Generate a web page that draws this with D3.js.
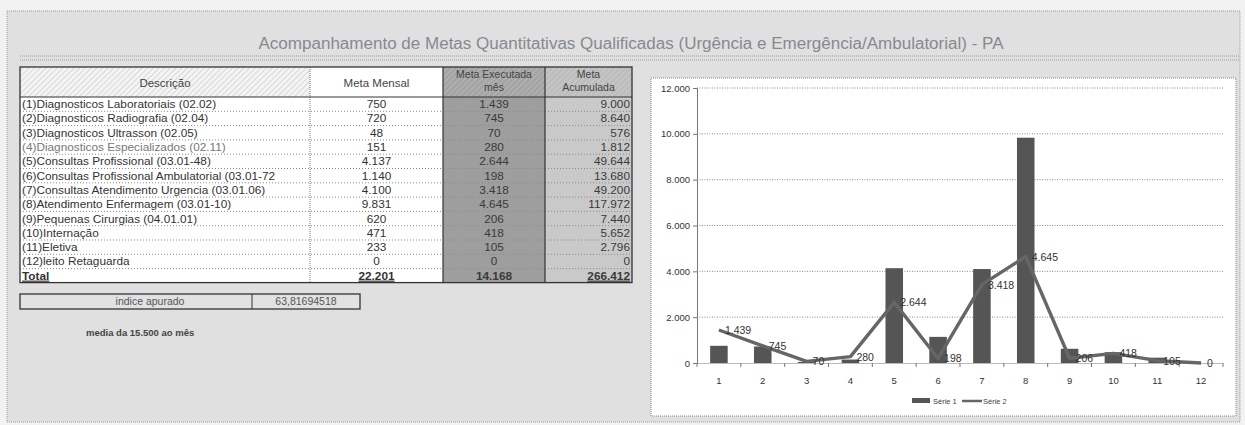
<!DOCTYPE html>
<html>
<head>
<meta charset="utf-8">
<script src="https://cdn.jsdelivr.net/npm/d3@7"></script>
<style>
  body { margin: 0; background: #f2f2f2; }
  svg text { font-family: "Liberation Sans", "DejaVu Sans", sans-serif; }
</style>
</head>
<body>
<div id="chart"></div>
<script>
const title = "Acompanhamento de Metas Quantitativas Qualificadas (Urgência e Emergência/Ambulatorial) - PA";
const headers = ["Descrição", "Meta Mensal", "Meta Executada mês", "Meta Acumulada"];
const descricao = [
  "(1)Diagnosticos Laboratoriais  (02.02)",
  "(2)Diagnosticos Radiografia (02.04)",
  "(3)Diagnosticos Ultrasson (02.05)",
  "(4)Diagnosticos Especializados (02.11)",
  "(5)Consultas Profissional (03.01-48)",
  "(6)Consultas Profissional Ambulatorial (03.01-72",
  "(7)Consultas Atendimento Urgencia (03.01.06)",
  "(8)Atendimento Enfermagem (03.01-10)",
  "(9)Pequenas Cirurgias (04.01.01)",
  "(10)Internação",
  "(11)Eletiva",
  "(12)leito Retaguarda"
];
const metaMensal = [750, 720, 48, 151, 4137, 1140, 4100, 9831, 620, 471, 233, 0];
const metaExecutada = [1439, 745, 70, 280, 2644, 198, 3418, 4645, 206, 418, 105, 0];
const metaAcumulada = [9000, 8640, 576, 1812, 49644, 13680, 49200, 117972, 7440, 5652, 2796, 0];
const categorias = [1, 2, 3, 4, 5, 6, 7, 8, 9, 10, 11, 12];
const yTicks = [0, 2000, 4000, 6000, 8000, 10000, 12000];
const indiceLabel = "indice apurado";
const indiceValor = "63,81694518";
const nota = "media da 15.500 ao mês";
const legenda = ["Série 1", "Série 2"];

const br = d3.formatLocale({decimal: ",", thousands: ".", grouping: [3], currency: ["R$", ""]});
const fmt = br.format(",d");

const W = 1245, H = 425;
const svg = d3.select("#chart").append("svg")
  .attr("width", W).attr("height", H);

const defs = svg.append("defs");
function hatch(id, bg, fg) {
  const p = defs.append("pattern").attr("id", id)
    .attr("width", 4).attr("height", 4)
    .attr("patternUnits", "userSpaceOnUse")
    .attr("patternTransform", "rotate(45)");
  p.append("rect").attr("width", 4).attr("height", 4).attr("fill", bg);
  p.append("line").attr("x1", 0).attr("y1", 0).attr("x2", 0).attr("y2", 4)
    .attr("stroke", fg).attr("stroke-width", 1.2);
}
hatch("hWhite", "#f4f4f4", "#c4c4c4");
hatch("hDark", "#a4a4a4", "#c2c2c2");
hatch("hMid", "#bdbdbd", "#d4d4d4");

// page panel
svg.append("rect").attr("x", 7).attr("y", 11).attr("width", 1233).attr("height", 411)
  .attr("fill", "#e0e0e0").attr("stroke", "#9a9a9a").attr("stroke-dasharray", "1,1");

svg.append("text").attr("x", 631).attr("y", 49)
  .attr("text-anchor", "middle").attr("font-size", 16).attr("fill", "#858a90")
  .attr("textLength", 745).attr("lengthAdjust", "spacingAndGlyphs")
  .text(title);
[56, 60].forEach(y => svg.append("line").attr("x1", 20).attr("x2", 1240)
  .attr("y1", y).attr("y2", y).attr("stroke", "#9a9a9a").attr("stroke-dasharray", "1,1"));

// ---- table
const colX = [20, 310, 443, 545, 632];
const headTop = 67, headBot = 97, rowH = 14.3;
const nRows = descricao.length;
const totalTop = headBot + nRows * rowH;
const tableBot = totalTop + 14;
const fs = 11.8;
const t = svg.append("g");

// column fills
const colFill = ["#ffffff", "#ffffff", "#9e9e9e", "#c9c9c9"];
const headFill = ["url(#hWhite)", "#ffffff", "url(#hDark)", "url(#hMid)"];
colFill.forEach((f, i) => {
  t.append("rect").attr("x", colX[i]).attr("y", headBot)
    .attr("width", colX[i + 1] - colX[i]).attr("height", tableBot - headBot).attr("fill", f);
  t.append("rect").attr("x", colX[i]).attr("y", headTop)
    .attr("width", colX[i + 1] - colX[i]).attr("height", headBot - headTop).attr("fill", headFill[i]);
});

// row separators
d3.range(1, nRows + 1).forEach(i => {
  t.append("line").attr("x1", colX[0]).attr("x2", colX[4])
    .attr("y1", headBot + i * rowH).attr("y2", headBot + i * rowH)
    .attr("stroke", "#8a8a8a").attr("stroke-dasharray", "1,2");
});
// column separators
t.append("line").attr("x1", colX[1]).attr("x2", colX[1]).attr("y1", headTop).attr("y2", tableBot)
  .attr("stroke", "#777").attr("stroke-dasharray", "1,1");
[2, 3].forEach(i => t.append("line").attr("x1", colX[i]).attr("x2", colX[i])
  .attr("y1", headTop).attr("y2", tableBot).attr("stroke", "#333").attr("stroke-width", 1.2));
t.append("line").attr("x1", colX[0]).attr("x2", colX[4]).attr("y1", headBot).attr("y2", headBot)
  .attr("stroke", "#333");
t.append("rect").attr("x", colX[0]).attr("y", headTop)
  .attr("width", colX[4] - colX[0]).attr("height", tableBot - headTop)
  .attr("fill", "none").attr("stroke", "#333").attr("stroke-width", 1.3);

// headers
t.append("text").attr("x", (colX[0] + colX[1]) / 2).attr("y", 87).attr("text-anchor", "middle")
  .attr("font-size", 11.5).attr("fill", "#444").text(headers[0]);
t.append("text").attr("x", (colX[1] + colX[2]) / 2).attr("y", 87).attr("text-anchor", "middle")
  .attr("font-size", 11.5).attr("fill", "#444").text(headers[1]);
t.append("text").attr("x", (colX[2] + colX[3]) / 2).attr("y", 78).attr("text-anchor", "middle")
  .attr("font-size", 10.5).attr("fill", "#444")
  .selectAll("tspan").data(["Meta Executada", "mês"]).join("tspan")
  .attr("x", (colX[2] + colX[3]) / 2).attr("dy", (d, i) => i ? 13 : 0).text(d => d);
t.append("text").attr("x", (colX[3] + colX[4]) / 2).attr("y", 78).attr("text-anchor", "middle")
  .attr("font-size", 10.5).attr("fill", "#444")
  .selectAll("tspan").data(["Meta", "Acumulada"]).join("tspan")
  .attr("x", (colX[3] + colX[4]) / 2).attr("dy", (d, i) => i ? 13 : 0).text(d => d);

// rows
const rowY = i => headBot + i * rowH + rowH - 3.2;
t.selectAll(".desc").data(descricao).join("text")
  .attr("x", colX[0] + 2).attr("y", (d, i) => rowY(i))
  .attr("font-size", fs).attr("fill", (d, i) => i === 3 ? "#777" : "#333").text(d => d);
t.selectAll(".mensal").data(metaMensal).join("text")
  .attr("x", (colX[1] + colX[2]) / 2).attr("y", (d, i) => rowY(i)).attr("text-anchor", "middle")
  .attr("font-size", fs).attr("fill", "#333").text(d => fmt(d));
t.selectAll(".exec").data(metaExecutada).join("text")
  .attr("x", (colX[2] + colX[3]) / 2).attr("y", (d, i) => rowY(i)).attr("text-anchor", "middle")
  .attr("font-size", fs).attr("fill", "#3a3a3a").text(d => fmt(d));
t.selectAll(".acum").data(metaAcumulada).join("text")
  .attr("x", colX[4] - 2).attr("y", (d, i) => rowY(i)).attr("text-anchor", "end")
  .attr("font-size", fs).attr("fill", "#3a3a3a").text(d => fmt(d));

// total row
const ty = tableBot - 3;
t.append("text").attr("x", colX[0] + 2).attr("y", ty).attr("font-size", fs).attr("font-weight", "bold")
  .attr("fill", "#333").style("text-decoration", "underline").text("Total");
t.append("text").attr("x", (colX[1] + colX[2]) / 2).attr("y", ty).attr("text-anchor", "middle")
  .attr("font-size", fs).attr("font-weight", "bold").attr("fill", "#333")
  .style("text-decoration", "underline").text(fmt(d3.sum(metaMensal)));
t.append("text").attr("x", (colX[2] + colX[3]) / 2).attr("y", ty).attr("text-anchor", "middle")
  .attr("font-size", fs).attr("font-weight", "bold").attr("fill", "#3a3a3a").text(fmt(d3.sum(metaExecutada)));
t.append("text").attr("x", colX[4] - 2).attr("y", ty).attr("text-anchor", "end")
  .attr("font-size", fs).attr("font-weight", "bold").attr("fill", "#3a3a3a")
  .style("text-decoration", "underline").text(fmt(d3.sum(metaAcumulada)));

// indice box
t.append("rect").attr("x", 20).attr("y", 294).attr("width", 340).attr("height", 15)
  .attr("fill", "#e2e2e2").attr("stroke", "#333").attr("stroke-width", 1.3);
t.append("line").attr("x1", 252).attr("x2", 252).attr("y1", 294).attr("y2", 309).attr("stroke", "#333");
t.append("text").attr("x", 150).attr("y", 305).attr("text-anchor", "middle")
  .attr("font-size", 10.5).attr("fill", "#555").text(indiceLabel);
t.append("text").attr("x", 306).attr("y", 305).attr("text-anchor", "middle")
  .attr("font-size", 10.5).attr("fill", "#555").text(indiceValor);
t.append("text").attr("x", 86).attr("y", 336).attr("font-size", 9.5).attr("font-weight", "bold")
  .attr("fill", "#444").text(nota);

// ---- chart
svg.append("rect").attr("x", 651).attr("y", 78).attr("width", 585).attr("height", 338)
  .attr("fill", "#ffffff").attr("stroke", "#8a8a8a").attr("stroke-dasharray", "1,1");

const x = d3.scaleBand().domain(categorias).range([697, 1223]).paddingInner(0.6).paddingOuter(0.3);
const y = d3.scaleLinear().domain([0, 12000]).range([363, 88]);
const cx = d => x(d) + x.bandwidth() / 2;

const c = svg.append("g");
c.append("g").selectAll("line").data(yTicks.filter(v => v > 0)).join("line")
  .attr("x1", 697).attr("x2", 1223).attr("y1", d => y(d)).attr("y2", d => y(d))
  .attr("stroke", "#8a8a8a").attr("stroke-dasharray", "1,1.5");

const yAxis = c.append("g").attr("transform", "translate(697,0)")
  .call(d3.axisLeft(y).tickValues(yTicks).tickSize(4).tickFormat(fmt));
yAxis.select(".domain").attr("stroke", "#777");
yAxis.selectAll(".tick line").attr("stroke", "#777");
yAxis.selectAll("text").attr("font-size", 9.5).attr("fill", "#333").attr("x", -7);

const xAxis = c.append("g").attr("transform", "translate(0,363)")
  .call(d3.axisBottom(x).tickSize(0).tickPadding(14));
xAxis.select(".domain").attr("stroke", "#777").attr("stroke-dasharray", "1,1");
xAxis.selectAll("text").attr("font-size", 9.5).attr("fill", "#333");
c.append("g").selectAll("line").data(categorias.concat([13])).join("line")
  .attr("x1", (d, i) => 697 + i * x.step()).attr("x2", (d, i) => 697 + i * x.step())
  .attr("y1", 363).attr("y2", 367).attr("stroke", "#777");

c.append("g").selectAll("rect").data(metaMensal).join("rect")
  .attr("x", (d, i) => x(categorias[i])).attr("width", x.bandwidth())
  .attr("y", d => y(d)).attr("height", d => y(0) - y(d))
  .attr("fill", "#555555");

const line = d3.line().x((d, i) => cx(categorias[i])).y(d => y(d));
c.append("path").datum(metaExecutada).attr("d", line)
  .attr("fill", "none").attr("stroke", "#666666").attr("stroke-width", 3.4)
  .attr("stroke-linejoin", "round");

c.append("g").selectAll("text").data(metaExecutada).join("text")
  .attr("x", (d, i) => cx(categorias[i]) + 6).attr("y", d => y(d) + 4)
  .attr("font-size", 10.5).attr("fill", "#333").text(d => fmt(d));

// legend
const lg = c.append("g").attr("transform", "translate(912,401)");
lg.append("rect").attr("x", 0).attr("y", -3).attr("width", 18).attr("height", 5).attr("fill", "#555555");
lg.append("text").attr("x", 21).attr("y", 2.5).attr("font-size", 7.5).attr("fill", "#444").text(legenda[0]);
lg.append("line").attr("x1", 50).attr("x2", 70).attr("y1", 0).attr("y2", 0)
  .attr("stroke", "#666666").attr("stroke-width", 2.5);
lg.append("text").attr("x", 71).attr("y", 2.5).attr("font-size", 7.5).attr("fill", "#444").text(legenda[1]);
</script>
</body>
</html>
